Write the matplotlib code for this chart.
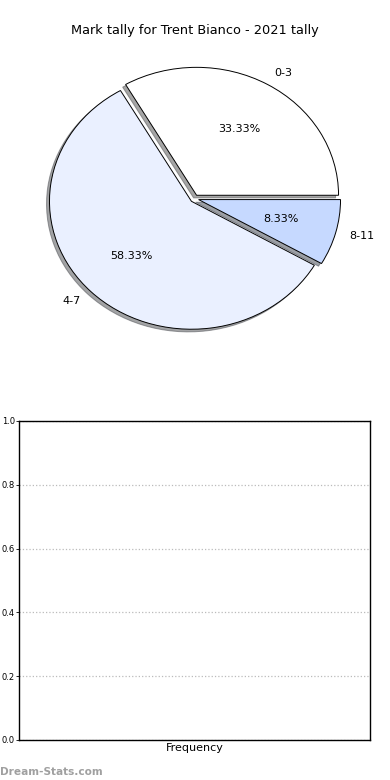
import numpy as np
import matplotlib
matplotlib.use("Agg")
import matplotlib.pyplot as plt

# Data
labels = ['0-3', '4-7', '8-11']
counts = [4, 7, 1]
slice_colors = ['#ffffff', '#eaf0ff', '#c6d9ff']
explode = [0.03, 0.03, 0.03]
title = "Mark tally for Trent Bianco - 2021 tally"
y_ticks = [0.0, 0.2, 0.4, 0.6, 0.8, 1.0]

fig = plt.figure(figsize=(3.9, 7.8), dpi=100)

# ==========================
# Pie chart (not forced round, like the original)
# ==========================
ax1 = fig.add_axes([0.0436, 0.5404, 0.910, 0.410])
ax1.pie(
    counts,
    labels=labels,
    colors=slice_colors,
    explode=explode,
    autopct='%.2f%%',
    startangle=0,
    shadow={'ox': -0.015, 'oy': -0.015},
    wedgeprops={'edgecolor': 'black', 'linewidth': 0.7},
    textprops={'fontsize': 8},
)
ax1.set_aspect('auto')
ax1.set_xlim(-1.25, 1.25)
ax1.set_ylim(-1.25, 1.25)
fig.text(0.5, 0.961, title, ha='center', va='center', fontsize=9.3)

# ==========================
# Empty frequency chart
# ==========================
ax2 = fig.add_axes([0.0487, 0.0513, 0.9, 0.409])
ax2.set_ylim(0, 1)
ax2.set_xlim(-0.5, 0.5)
ax2.set_yticks(y_ticks)
ax2.tick_params(axis='y', labelsize=6, length=2, width=0.6, pad=1)
ax2.set_xticks([])
ax2.set_xlabel('Frequency', fontsize=8, labelpad=2)
ax2.yaxis.grid(True, linestyle=':', color='#bbbbbb', linewidth=0.9)
for s in ax2.spines.values():
    s.set_linewidth(1.0)

fig.text(0.0, 0.004, 'Dream-Stats.com', fontsize=7.6, color='#a0a0a0',
         fontweight='bold', ha='left', va='bottom')

fig.savefig('out.png', dpi=100)
